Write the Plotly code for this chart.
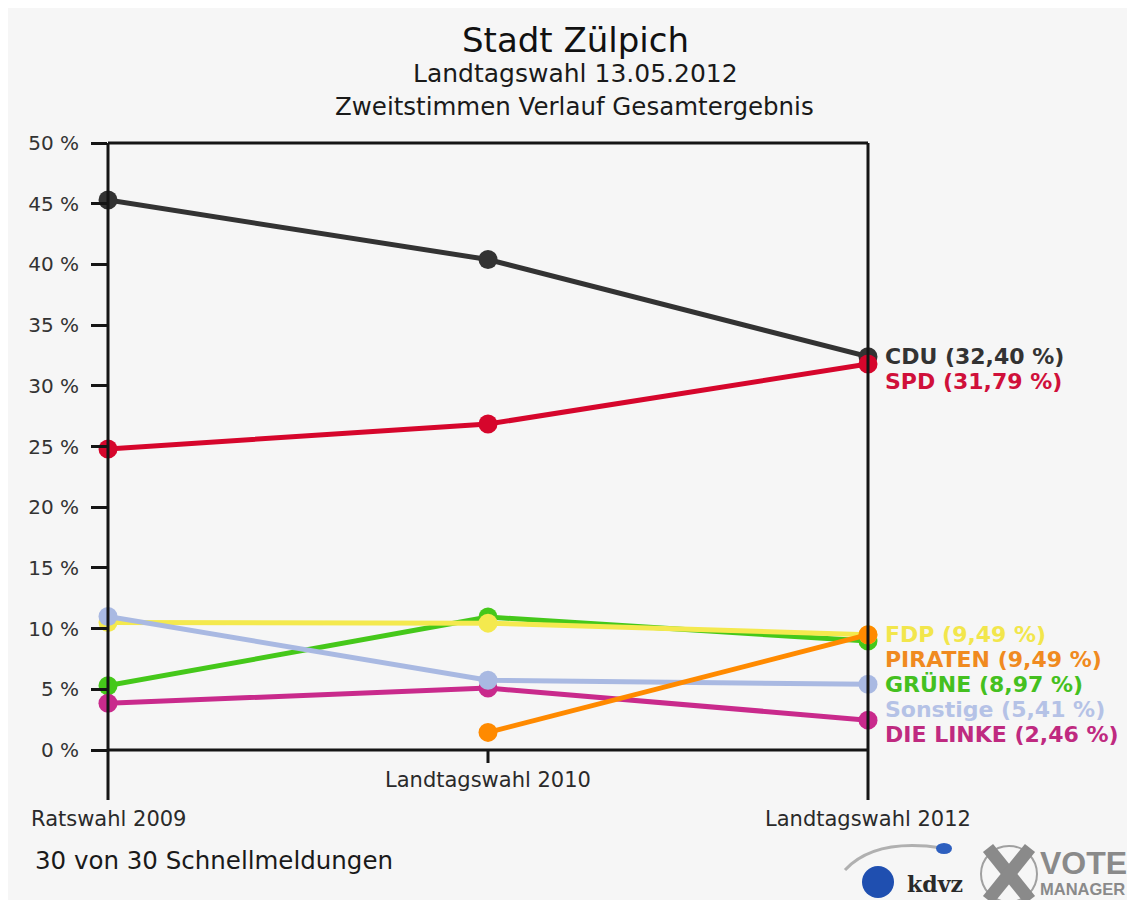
import plotly.graph_objects as go

# ---------------- data ----------------
elections = ["Ratswahl 2009", "Landtagswahl 2010", "Landtagswahl 2012"]
parties = ["CDU", "GRÜNE", "DIE LINKE", "FDP", "Sonstige", "SPD", "PIRATEN"]
cdu = [45.3, 40.4, 32.40]
spd = [24.8, 26.85, 31.79]
fdp = [10.5, 10.45, 9.49]
piraten = [None, 1.45, 9.49]
gruene = [5.3, 10.95, 8.97]
sonstige = [11.0, 5.75, 5.41]
linke = [3.85, 5.1, 2.46]
label_order = ["CDU", "SPD", "FDP", "PIRATEN", "GRÜNE", "Sonstige", "DIE LINKE"]
y_ticks = [0, 5, 10, 15, 20, 25, 30, 35, 40, 45, 50]
y_tick_text = [f"{v} %" for v in y_ticks]

series = {"CDU": cdu, "SPD": spd, "FDP": fdp, "PIRATEN": piraten,
          "GRÜNE": gruene, "Sonstige": sonstige, "DIE LINKE": linke}
line_colors = {"CDU": "#333333", "SPD": "#d6062c", "FDP": "#f4e94e",
               "PIRATEN": "#ff8a00", "GRÜNE": "#45c81a", "Sonstige": "#a9b9e2",
               "DIE LINKE": "#c92a8c"}
text_colors = {"CDU": "#333333", "SPD": "#d0103a", "FDP": "#f2e64c",
               "PIRATEN": "#f08a20", "GRÜNE": "#44c020", "Sonstige": "#b5c2e6",
               "DIE LINKE": "#bf2a80"}

# page offset (body margin) compensation
OFF = 8
W, H = 1135 - 2 * OFF, 908 - 2 * OFF
L, R, T, B = 108, 868, 143, 750   # plot area in page pixels
FONT = "DejaVu Sans"


def px(x):
    return (x - L) / (R - L)


def py(y):
    return (B - y) / (B - T)


fig = go.Figure()
xs = list(range(len(elections)))
for p in parties:
    fig.add_trace(go.Scatter(
        x=xs, y=series[p], mode="lines+markers", name=p,
        line=dict(color=line_colors[p], width=5),
        marker=dict(color=line_colors[p], size=19),
        cliponaxis=False, showlegend=False, connectgaps=False))

shapes = []
shapes.append(dict(type="rect", xref="paper", yref="paper", x0=px(OFF - 1), x1=px(1128),
                   y0=py(901), y1=py(OFF - 1), fillcolor="#f6f6f6", line=dict(width=0),
                   layer="below"))
axc = "#151515"
shapes.append(dict(type="line", xref="paper", yref="paper", x0=0, x1=1, y0=1, y1=1,
                   line=dict(color=axc, width=3)))
shapes.append(dict(type="line", xref="paper", yref="paper", x0=1, x1=1, y0=1, y1=py(800),
                   line=dict(color=axc, width=3)))
shapes.append(dict(type="line", xref="paper", yref="paper", x0=0, x1=0, y0=1, y1=py(800),
                   line=dict(color=axc, width=3)))
shapes.append(dict(type="line", xref="paper", yref="paper", x0=0, x1=1, y0=0, y1=0,
                   line=dict(color=axc, width=3)))
shapes.append(dict(type="line", xref="x", yref="paper", x0=1, x1=1, y0=0, y1=py(763),
                   line=dict(color=axc, width=3)))

annotations = []
label_y = {0: 819, 1: 780, 2: 819}
for i, e in enumerate(elections):
    annotations.append(dict(x=i, xref="x", y=py(label_y[i]), yref="paper", text=e,
                            showarrow=False, xanchor="center", yanchor="middle",
                            font=dict(family=FONT, size=21, color="#2a2a2a")))

gap = 25 / ((B - T) / 50.0)
prev = None
for p in label_order:
    v = series[p][-1]
    ly = v if prev is None else min(v, prev - gap)
    prev = ly
    txt = f"{p} ({v:.2f} %)".replace(".", ",")
    annotations.append(dict(x=2, xref="x", y=ly, yref="y", text=txt, showarrow=False,
                            xanchor="left", yanchor="middle", xshift=15,
                            font=dict(family=FONT, size=22, color=text_colors[p],
                                      weight="bold")))


def page_text(x, y, text, size, color, xanchor="center", family=FONT):
    annotations.append(dict(x=px(x), y=py(y), xref="paper", yref="paper", text=text,
                            showarrow=False, xanchor=xanchor, yanchor="middle",
                            font=dict(family=family, size=size, color=color)))


page_text(575, 40, "Stadt Zülpich", 34, "#111")
page_text(575, 74, "Landtagswahl 13.05.2012", 25, "#1a1a1a")
page_text(574, 107, "Zweitstimmen Verlauf Gesamtergebnis", 24.5, "#1a1a1a")
page_text(33, 860, "30 von 30 Schnellmeldungen", 24.5, "#1a1a1a", xanchor="left")

# logo decorations
shapes.append(dict(type="path", xref="paper", yref="paper",
                   path=f"M {px(845)},{py(870)} Q {px(875)},{py(838)} {px(942)},{py(848)}",
                   line=dict(color="#b0b0b0", width=3)))
shapes.append(dict(type="circle", xref="paper", yref="paper", x0=px(936), x1=px(952),
                   y0=py(854), y1=py(843), fillcolor="#2d5fbf", line=dict(width=0)))
shapes.append(dict(type="circle", xref="paper", yref="paper", x0=px(862), x1=px(894),
                   y0=py(898), y1=py(866), fillcolor="#1f4fb0", line=dict(width=0)))
shapes.append(dict(type="circle", xref="paper", yref="paper", x0=px(981), x1=px(1037),
                   y0=py(902), y1=py(846), fillcolor="rgba(0,0,0,0)",
                   line=dict(color="#a0a0a0", width=2)))
shapes.append(dict(type="line", xref="paper", yref="paper", x0=px(988), x1=px(1030),
                   y0=py(848), y1=py(900), line=dict(color="#8a8a8a", width=13)))
shapes.append(dict(type="line", xref="paper", yref="paper", x0=px(1030), x1=px(988),
                   y0=py(848), y1=py(900), line=dict(color="#8a8a8a", width=13)))
page_text(905, 884, "<b>kdvz</b>", 22, "#2a2a2a", xanchor="left", family="DejaVu Serif")
page_text(1038, 863, "<b>VOTE</b>", 32, "#8a8a8a", xanchor="left", family="Liberation Sans")
page_text(1038, 889, "<b>MANAGER</b>", 16.5, "#8a8a8a", xanchor="left", family="Liberation Sans")

fig.update_layout(
    width=W, height=H,
    margin=dict(l=L - OFF, r=W - (R - OFF), t=T - OFF, b=H - (B - OFF), pad=0),
    paper_bgcolor="white", plot_bgcolor="#f6f6f6",
    shapes=shapes, annotations=annotations,
    xaxis=dict(range=[0, 2], showgrid=False, zeroline=False, showticklabels=False,
               ticks="", showline=False, fixedrange=True),
    yaxis=dict(range=[0, 50], tickmode="array", tickvals=y_ticks, ticktext=y_tick_text,
               showgrid=False, zeroline=False, ticks="outside", ticklen=16, tickwidth=3,
               tickcolor=axc, showline=False, ticklabelstandoff=8,
               tickfont=dict(family=FONT, size=20, color="#333")),
)

fig.write_html("out.html")
